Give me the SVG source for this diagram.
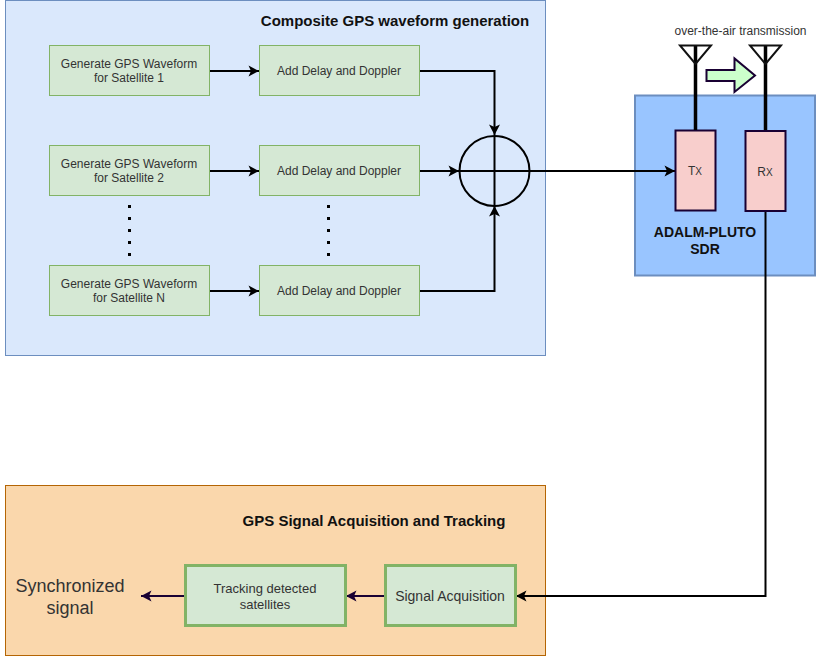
<svg xmlns="http://www.w3.org/2000/svg" width="822" height="656" viewBox="0 0 822 656">
<defs>
<marker id="ab" viewBox="0 0 12 12" refX="11" refY="6" markerUnits="userSpaceOnUse" markerWidth="12" markerHeight="12" orient="auto"><path d="M0.500 0.500L11 6L0.500 11.500L3 6Z" fill="#000"/></marker>
<marker id="ap" viewBox="0 0 12 12" refX="11" refY="6" markerUnits="userSpaceOnUse" markerWidth="12" markerHeight="12" orient="auto"><path d="M0.500 0.500L11 6L0.500 11.500L3 6Z" fill="#190033"/></marker>
</defs>
<style>
text{font-family:"Liberation Sans",Arial,sans-serif;text-anchor:middle;fill:#333}
.s{font-size:12px}
.m{font-size:13px}
.b{font-weight:bold;font-size:14px;fill:#111}
.h{font-weight:bold;font-size:15px;fill:#111}
.g{fill:#d5e8d4;stroke:#82b366;stroke-width:1}
.G{fill:#d5e8d4;stroke:#82b366;stroke-width:3}
.r{fill:#f8cecc;stroke:#190033;stroke-width:2}
.c{fill:none;stroke:#000;stroke-width:2}
.p{fill:none;stroke:#190033;stroke-width:2}
.t{fill:none;stroke:#000;stroke-width:3.500}
</style>
<g id="panel-composite"><rect x="5.500" y="0.500" width="540" height="355" fill="#dae8fc" stroke="#6c8ebf"/><text class="h" x="395" y="26">Composite GPS waveform generation</text></g>
<g id="panel-pluto"><rect x="635" y="95.500" width="180" height="180" fill="#99c5ff" stroke="#6c8ebf" stroke-width="2"/><text class="b" x="705" y="237">ADALM-PLUTO</text><text class="b" x="705" y="254">SDR</text></g>
<g id="panel-tracking"><rect x="5.500" y="485.500" width="540" height="170" fill="#fad7ac" stroke="#b46504"/><text class="h" x="374" y="526">GPS Signal Acquisition and Tracking</text></g>
<g id="gen1"><rect class="g" x="49.500" y="45.500" width="160" height="50"/><text class="s" x="129" y="68">Generate GPS Waveform</text><text class="s" x="129" y="82">for Satellite 1</text></g>
<g id="gen2"><rect class="g" x="49.500" y="145.500" width="160" height="50"/><text class="s" x="129" y="168">Generate GPS Waveform</text><text class="s" x="129" y="182">for Satellite 2</text></g>
<g id="genN"><rect class="g" x="49.500" y="265.500" width="160" height="50"/><text class="s" x="129" y="288">Generate GPS Waveform</text><text class="s" x="129" y="302">for Satellite N</text></g>
<g id="delay1"><rect class="g" x="259.500" y="45.500" width="160" height="50"/><text class="s" x="339" y="75">Add Delay and Doppler</text></g>
<g id="delay2"><rect class="g" x="259.500" y="145.500" width="160" height="50"/><text class="s" x="339" y="175">Add Delay and Doppler</text></g>
<g id="delayN"><rect class="g" x="259.500" y="265.500" width="160" height="50"/><text class="s" x="339" y="295">Add Delay and Doppler</text></g>
<g id="dots1" fill="#000"><rect x="128" y="205" width="3" height="3"/><rect x="128" y="217" width="3" height="3"/><rect x="128" y="229" width="3" height="3"/><rect x="128" y="241" width="3" height="3"/><rect x="128" y="253" width="3" height="3"/></g>
<g id="dots2" fill="#000"><rect x="327" y="205" width="3" height="3"/><rect x="327" y="217" width="3" height="3"/><rect x="327" y="229" width="3" height="3"/><rect x="327" y="241" width="3" height="3"/><rect x="327" y="253" width="3" height="3"/></g>
<g id="connectors">
<path class="c" marker-end="url(#ab)" d="M210 71H259"/>
<path class="c" marker-end="url(#ab)" d="M210 171H259"/>
<path class="c" marker-end="url(#ab)" d="M210 291H259"/>
<path class="c" marker-end="url(#ab)" d="M420 71H494.500V135"/>
<path class="c" marker-end="url(#ab)" d="M420 171H459"/>
<path class="c" marker-end="url(#ab)" d="M420 291H494.500V206"/>
<path class="c" marker-end="url(#ab)" d="M530 171H675"/>
<path class="c" marker-end="url(#ab)" d="M765.500 211V596H516"/>
<path class="p" marker-end="url(#ap)" d="M385 596H346"/>
<path class="p" marker-end="url(#ap)" d="M185 596H141"/>
</g>
<g id="summer"><circle cx="494.500" cy="171" r="35" fill="none" stroke="#000" stroke-width="2"/><path d="M459.500 171H529.500M494.500 136V206" fill="none" stroke="#000" stroke-width="2"/></g>
<g id="tx"><rect class="r" x="675.500" y="130.500" width="40" height="80"/><text class="s" x="695" y="175"><tspan>T</tspan><tspan font-size="10">X</tspan></text></g>
<g id="rx"><rect class="r" x="745.500" y="131" width="40" height="80"/><text class="s" x="765" y="176"><tspan>R</tspan><tspan font-size="10">X</tspan></text></g>
<g id="antennas"><path class="t" d="M695.500 45V130M765.500 45V130"/><path d="M680 45.500H711L695.500 64ZM750 45.500H781L765.500 64Z" fill="none" stroke="#111" stroke-width="2"/></g>
<g id="air"><text font-size="12" x="740.500" y="35">over-the-air transmission</text><path d="M706.500 70H734.500V58.500L755 75.500L734.500 92V81H706.500Z" fill="#ccffcc" stroke="#190033" stroke-width="2"/></g>
<g id="acq"><rect class="G" x="385.500" y="565.500" width="130" height="60"/><text x="450" y="601" font-size="14px">Signal Acquisition</text></g>
<g id="track"><rect class="G" x="185.500" y="565.500" width="160" height="60"/><text class="m" x="265" y="593">Tracking detected</text><text class="m" x="265" y="609">satellites</text></g>
<g id="sync"><text font-size="18" x="70" y="592">Synchronized</text><text font-size="18" x="70" y="614">signal</text></g>
</svg>
